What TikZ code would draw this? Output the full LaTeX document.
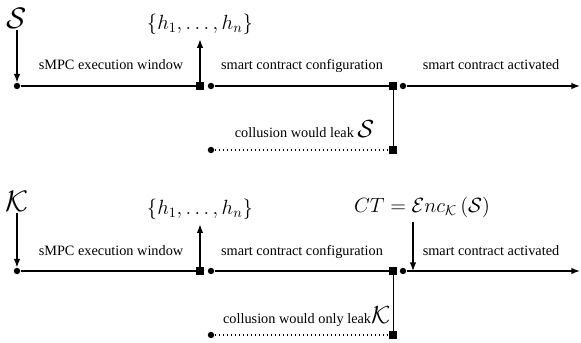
\documentclass[tikz,border=0pt]{standalone}
\usepackage{fontspec}
\setmainfont{Liberation Serif}
\usetikzlibrary{arrows.meta}

\begin{document}
\begin{tikzpicture}[x=0.7pt, y=-0.7pt, >={Latex[length=6pt,width=4.5pt]}]
    % Styles for the time line marks
    \tikzset{
        dot/.style={circle, fill=black, inner sep=0pt, minimum size=4.5pt},
        sq/.style={rectangle, fill=black, inner sep=0pt, minimum size=5pt},
        tline/.style={line width=0.9pt},
        lbl/.style={anchor=base, font=\normalsize}
    }

    \useasboundingbox (0,0) rectangle (581,343);

    % ---------- First time line ----------
    \node[dot] (a1) at (17,86) {};
    \node[sq]  (b1) at (200,86) {};
    \node[dot] (c1) at (211,86) {};
    \node[sq]  (d1) at (393,86) {};
    \node[dot] (e1) at (403,86) {};
    \coordinate (f1) at (580,86);
    \node[sq]  (g1) at (393,150) {};
    \node[dot] (h1) at (211,150) {};

    \draw[tline] (a1) -- (b1);
    \draw[tline] (c1) -- (d1);
    \draw[tline,->] (e1) -- (f1);
    \draw[thin] (d1) -- (g1);
    \draw[dotted, thick] (h1) -- (g1);

    % Labels of the first time line
    \node[inner sep=1pt] (sec1) at (17,18) {\huge$\mathcal{S}$};
    \node (hash1) at (200,24) {\Large$\{h_1,\ldots,h_n\}$};
    \node[lbl] (w1) at (111,70) {sMPC execution window};
    \node[lbl] (k1) at (302,70) {smart contract configuration};
    \node[lbl] (l1) at (491,70) {smart contract activated};
    \node[anchor=base east, inner sep=1pt] (m1) at (376,138) {collusion would leak {\LARGE$\mathcal{S}$}};

    \draw[thick,->] (sec1) -- (a1);
    \draw[thick,->] (b1) -- (hash1);

    % ---------- Second time line ----------
    \node[dot] (a2) at (17,271) {};
    \node[sq]  (b2) at (200,271) {};
    \node[dot] (c2) at (211,271) {};
    \node[sq]  (d2) at (393,271) {};
    \node[dot] (e2) at (403,271) {};
    \coordinate (f2) at (580,271);
    \node[sq]  (g2) at (393,335) {};
    \node[dot] (h2) at (211,335) {};
    \coordinate (t2) at (413,271);

    \draw[tline] (a2) -- (b2);
    \draw[tline] (c2) -- (d2);
    \draw[tline,->] (e2) -- (f2);
    \draw[thin] (d2) -- (g2);
    \draw[dotted, thick] (h2) -- (g2);

    % Labels of the second time line
    \node[inner sep=1pt] (key2) at (17,201) {\huge$\mathcal{K}$};
    \node (hash2) at (200,209) {\Large$\{h_1,\ldots,h_n\}$};
    \node (ct2) at (422,207) {\Large$CT = \mathcal{E}nc_{\mathcal{K}}\left(\mathcal{S}\right)$};
    \node[lbl] (w2) at (111,255) {sMPC execution window};
    \node[lbl] (k2) at (302,255) {smart contract configuration};
    \node[lbl] (l2) at (491,255) {smart contract activated};
    \node[anchor=base east, inner sep=1pt] (m2) at (392,323) {collusion would only leak{\LARGE$\mathcal{K}$}};

    \draw[thick,->] (key2) -- (a2);
    \draw[thick,->] (b2) -- (hash2);
    \draw[thick,->] (ct2.south -| t2) -- (t2);

\end{tikzpicture}
\end{document}
